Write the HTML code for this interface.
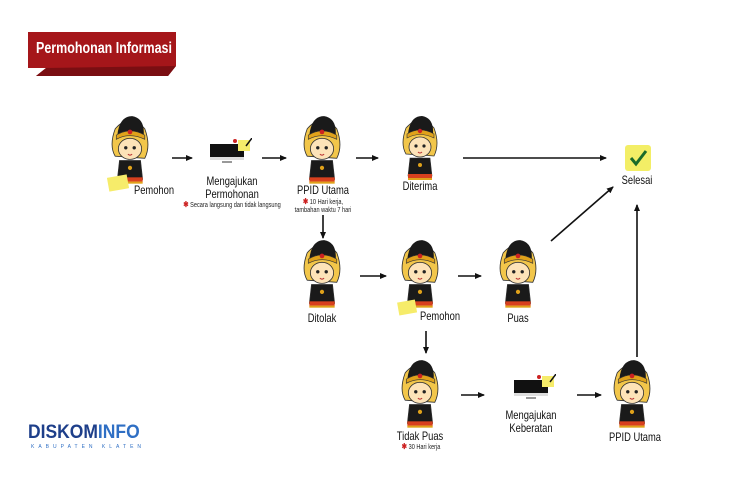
<!DOCTYPE html>
<html><head><meta charset="utf-8"><style>
body{margin:0;width:750px;height:480px;background:#fff;overflow:hidden;position:relative;font-family:"Liberation Sans Narrow","Liberation Sans",sans-serif}
.t{position:absolute;font-size:12px;color:#111;text-align:center;white-space:nowrap;transform:translateX(-50%) scaleX(.78);line-height:13px}
.s{position:absolute;font-size:7px;color:#222;text-align:center;white-space:nowrap;transform:translateX(-50%) scaleX(.8);line-height:8px}
.s b{color:#c22;font-size:8px}
svg{position:absolute;left:0;top:0}
</style></head><body>
<svg width="750" height="480" viewBox="0 0 750 480">
<defs>
<symbol id="c" viewBox="0 0 40 72">
 <path d="M6 40 Q0 30 6 14 Q20 -2 34 14 Q40 30 34 42 Z" fill="#f2c64a" stroke="#333" stroke-width="0.8"/>
 <path d="M8 20 Q10 2 22 2 Q34 4 33 20 Z" fill="#1a1a1a"/>
 <path d="M7 20 Q20 12 34 20 L34 24 Q20 17 7 24 Z" fill="#e0a21a" stroke="#333" stroke-width="0.6"/>
 <circle cx="20" cy="17" r="2.2" fill="#c22"/>
 <ellipse cx="20" cy="33" rx="11" ry="10" fill="#fde3b8" stroke="#333" stroke-width="0.8"/>
 <circle cx="16" cy="32" r="1.6" fill="#222"/><circle cx="24" cy="32" r="1.6" fill="#222"/>
 <path d="M18 38 Q20 40 22 38" stroke="#b33" fill="none"/>
 <path d="M10 44 L30 44 L32 62 L8 62 Z" fill="#1a1a1a" stroke="#333" stroke-width="0.6"/>
 <circle cx="20" cy="51" r="2" fill="#e0a21a"/>
 <rect x="8" y="60" width="24" height="4" fill="#d8401e"/>
 <rect x="8" y="64" width="24" height="2" fill="#e0a21a"/>
</symbol>
<symbol id="m" viewBox="0 0 44 26">
 <rect x="2" y="6" width="34" height="16" fill="#111"/>
 <rect x="2" y="19" width="34" height="3" fill="#ddd"/>
 <rect x="14" y="23" width="10" height="2" fill="#999"/>
 <rect x="30" y="2" width="12" height="11" fill="#f6ec6a"/>
 <path d="M38 8 L44 0" stroke="#111" stroke-width="1.5"/>
 <circle cx="27" cy="3" r="2" fill="#c22"/>
</symbol>
<marker id="a" markerWidth="8" markerHeight="8" refX="6" refY="4" orient="auto" markerUnits="userSpaceOnUse"><path d="M0 1 L7 4 L0 7 Z" fill="#111"/></marker>
</defs>
<path d="M28 32 H176 V66 L168 76 H36 L46 68 H28 Z" fill="#a5161a"/>
<path d="M46 68 L36 76 H168 L176 66 Z" fill="#7a0e12"/>
<g stroke="#111" stroke-width="1.6" marker-end="url(#a)" fill="none">
<line x1="172" y1="158" x2="192" y2="158"/>
<line x1="262" y1="158" x2="286" y2="158"/>
<line x1="356" y1="158" x2="378" y2="158"/>
<line x1="463" y1="158" x2="606" y2="158"/>
<line x1="323" y1="215" x2="323" y2="238"/>
<line x1="360" y1="276" x2="386" y2="276"/>
<line x1="458" y1="276" x2="481" y2="276"/>
<line x1="551" y1="241" x2="613" y2="187"/>
<line x1="426" y1="331" x2="426" y2="353"/>
<line x1="461" y1="395" x2="484" y2="395"/>
<line x1="577" y1="395" x2="601" y2="395"/>
<line x1="637" y1="357" x2="637" y2="205"/>
</g>
<use href="#c" x="107" y="114" width="46" height="76"/>
<rect x="108" y="176" width="20" height="14" fill="#f6ec6a" transform="rotate(-10 118 183)"/>
<use href="#c" x="299" y="114" width="46" height="76"/>
<use href="#c" x="397" y="114" width="46" height="72"/>
<use href="#c" x="299" y="238" width="46" height="76"/>
<use href="#c" x="397" y="238" width="46" height="76"/>
<rect x="398" y="301" width="18" height="13" fill="#f6ec6a" transform="rotate(-10 407 307)"/>
<use href="#c" x="495" y="238" width="46" height="76"/>
<use href="#c" x="397" y="358" width="46" height="76"/>
<use href="#c" x="609" y="358" width="46" height="76"/>
<use href="#m" x="208" y="138" width="44" height="26"/>
<use href="#m" x="512" y="374" width="44" height="26"/>
<rect x="625" y="145" width="26" height="26" rx="3" fill="#f3ee66"/>
<path d="M631 158 L636 164 L646 151" stroke="#1a6b2a" stroke-width="3" fill="none"/>
</svg>
<div style="position:absolute;left:36px;top:40px;color:#fff;font-weight:bold;font-size:16px;transform:scaleX(.78);transform-origin:0 0;white-space:nowrap">Permohonan Informasi</div>
<div class="t" style="left:154px;top:184px">Pemohon</div>
<div class="t" style="left:232px;top:175px">Mengajukan<br>Permohonan</div>
<div class="s" style="left:232px;top:201px"><b>✱</b> Secara langsung dan tidak langsung</div>
<div class="t" style="left:323px;top:184px">PPID Utama</div>
<div class="s" style="left:323px;top:198px"><b>✱</b> 10 Hari kerja,<br>tambahan waktu 7 hari</div>
<div class="t" style="left:420px;top:180px">Diterima</div>
<div class="t" style="left:637px;top:174px">Selesai</div>
<div class="t" style="left:322px;top:312px">Ditolak</div>
<div class="t" style="left:440px;top:310px">Pemohon</div>
<div class="t" style="left:518px;top:312px">Puas</div>
<div class="t" style="left:420px;top:430px">Tidak Puas</div>
<div class="s" style="left:421px;top:443px"><b>✱</b> 30 Hari kerja</div>
<div class="t" style="left:531px;top:409px">Mengajukan<br>Keberatan</div>
<div class="t" style="left:635px;top:431px">PPID Utama</div>
<div style="position:absolute;left:28px;top:422px;font-family:'Liberation Sans',sans-serif;font-weight:bold;font-size:19px;color:#1e3f8a;transform:scaleX(.92);transform-origin:0 0;white-space:nowrap">DISKOM<span style="color:#2f6fc4">INFO</span></div>
<div style="position:absolute;left:31px;top:444px;font-family:'Liberation Sans',sans-serif;font-size:5px;color:#2f6fc4;letter-spacing:4px;white-space:nowrap">KABUPATEN KLATEN</div>
</body></html>
